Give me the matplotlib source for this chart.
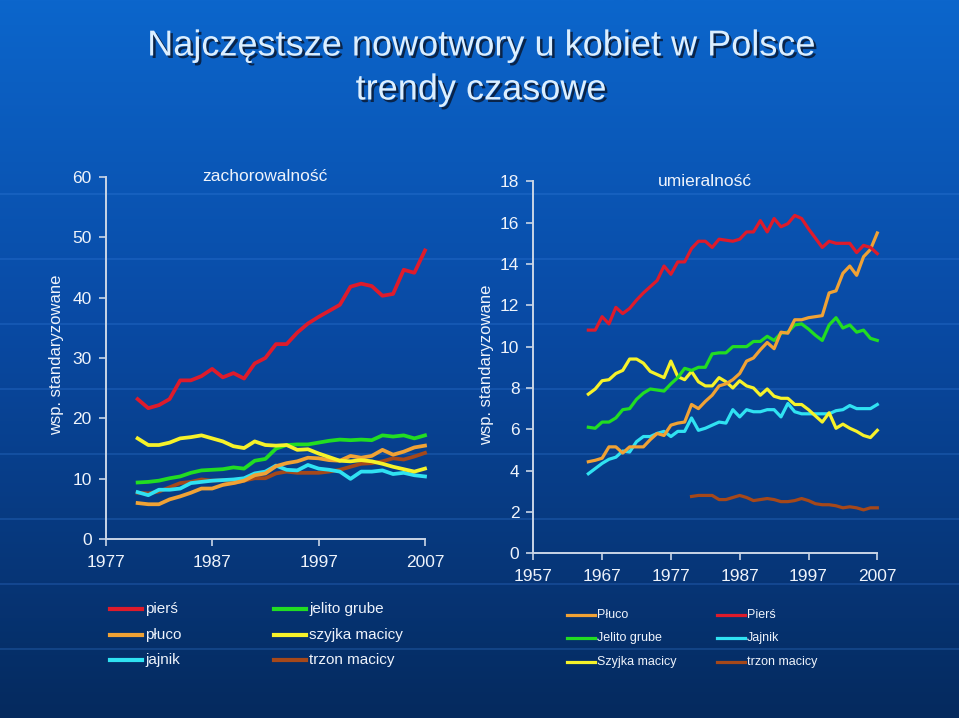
import numpy as np
import matplotlib
matplotlib.use("Agg")
import matplotlib.pyplot as plt
from matplotlib.lines import Line2D
import matplotlib.patheffects as pe

W, H = 959, 718

# ---------------- data ----------------
inc_years = list(range(1980, 2008))
inc_piers = [23.2, 21.7, 22.2, 23.2, 26.3, 26.3, 27.0, 28.2, 26.8, 27.5, 26.6, 29.1, 30.0, 32.3,
             32.3, 34.2, 35.7, 36.8, 37.8, 38.8, 41.8, 42.3, 41.9, 40.3, 40.6, 44.6, 44.1, 47.8]
inc_szyjka = [16.7, 15.6, 15.6, 16.0, 16.7, 16.9, 17.2, 16.7, 16.2, 15.4, 15.1, 16.2, 15.6, 15.5,
              15.6, 14.8, 14.9, 14.2, 13.6, 13.0, 12.9, 13.1, 12.9, 12.5, 12.0, 11.6, 11.2, 11.7]
inc_jelito = [9.4, 9.5, 9.7, 10.1, 10.4, 11.0, 11.4, 11.5, 11.6, 11.9, 11.7, 13.0, 13.3, 15.0,
              15.6, 15.7, 15.7, 16.0, 16.3, 16.5, 16.4, 16.5, 16.4, 17.2, 17.0, 17.2, 16.7, 17.2]
inc_pluco = [6.0, 5.8, 5.8, 6.6, 7.1, 7.7, 8.4, 8.4, 9.0, 9.3, 9.7, 10.6, 10.9, 12.1,
             12.6, 12.9, 13.5, 13.4, 13.1, 13.0, 13.8, 13.5, 13.8, 14.8, 14.0, 14.5, 15.2, 15.5]
inc_jajnik = [7.8, 7.3, 8.2, 8.2, 8.4, 9.3, 9.5, 9.7, 9.8, 9.9, 10.1, 10.9, 11.2, 12.2,
              11.5, 11.4, 12.3, 11.7, 11.5, 11.2, 10.0, 11.2, 11.2, 11.4, 10.8, 11.0, 10.6, 10.4]
inc_trzon = [7.7, 7.6, 7.9, 8.6, 9.3, 9.5, 9.9, 9.7, 9.8, 9.3, 9.7, 10.1, 10.1, 10.9,
             11.2, 11.0, 11.0, 11.0, 11.2, 11.5, 12.0, 12.5, 12.6, 12.9, 13.4, 13.2, 13.7, 14.3]

mort_years = list(range(1965, 2008))
mort_piers = [10.8, 10.8, 11.45, 11.1, 11.9, 11.6, 11.85, 12.25, 12.6, 12.9, 13.2, 13.9, 13.5, 14.1,
              14.1, 14.75, 15.1, 15.1, 14.8, 15.2, 15.15, 15.1, 15.2, 15.55, 15.55, 16.1, 15.55, 16.2,
              15.8, 15.95, 16.35, 16.2, 15.7, 15.25, 14.8, 15.1, 15.0, 15.0, 15.0, 14.55, 14.9, 14.8, 14.5]
mort_pluco = [4.43, 4.5, 4.6, 5.15, 5.15, 4.85, 5.15, 5.15, 5.15, 5.5, 5.8, 5.7, 6.2, 6.3,
              6.35, 7.2, 7.0, 7.35, 7.65, 8.1, 8.2, 8.4, 8.7, 9.3, 9.45, 9.85, 10.2, 9.9,
              10.7, 10.65, 11.3, 11.3, 11.4, 11.45, 11.5, 12.6, 12.7, 13.55, 13.9, 13.45, 14.35, 14.7, 15.5]
mort_jelito = [6.1, 6.05, 6.35, 6.35, 6.55, 6.95, 7.0, 7.45, 7.75, 7.95, 7.9, 7.85, 8.2, 8.5,
               8.95, 8.85, 9.0, 9.0, 9.65, 9.7, 9.7, 10.0, 10.0, 10.0, 10.25, 10.25, 10.5, 10.3,
               10.65, 10.7, 11.05, 11.1, 10.85, 10.55, 10.3, 11.05, 11.4, 10.9, 11.05, 10.7, 10.8, 10.4, 10.3]
mort_szyjka = [7.7, 7.95, 8.35, 8.4, 8.7, 8.85, 9.4, 9.4, 9.2, 8.8, 8.65, 8.5, 9.3, 8.55,
               8.4, 8.8, 8.3, 8.1, 8.1, 8.5, 8.3, 8.0, 8.35, 8.1, 8.0, 7.65, 7.95, 7.6,
               7.5, 7.5, 7.2, 7.2, 6.95, 6.65, 6.35, 6.8, 6.05, 6.25, 6.05, 5.9, 5.7, 5.6, 5.95]
mort_jajnik = [3.85, 4.1, 4.35, 4.55, 4.65, 4.95, 4.9, 5.4, 5.65, 5.65, 5.8, 5.9, 5.65, 5.9,
               5.9, 6.55, 5.95, 6.05, 6.2, 6.35, 6.3, 6.95, 6.6, 6.95, 6.85, 6.85, 6.95, 6.95,
               6.6, 7.25, 6.85, 6.75, 6.75, 6.75, 6.75, 6.75, 6.9, 6.95, 7.15, 7.0, 7.0, 7.0, 7.2]
mort_trzon_years = list(range(1980, 2008))
mort_trzon = [2.75, 2.8, 2.8, 2.8, 2.6, 2.6, 2.7, 2.8, 2.7, 2.55, 2.6, 2.65, 2.6, 2.5,
              2.5, 2.55, 2.65, 2.55, 2.4, 2.35, 2.35, 2.3, 2.2, 2.25, 2.2, 2.1, 2.2, 2.2]

C_RED, C_ORANGE, C_GREEN = "#de1b2b", "#f0a235", "#22dd22"
C_YELLOW, C_CYAN, C_BROWN = "#f6f22a", "#30e2f2", "#a5481a"

left_labels = ["pierś", "płuco", "jajnik", "jelito grube", "szyjka macicy", "trzon macicy"]
left_colors = [C_RED, C_ORANGE, C_CYAN, C_GREEN, C_YELLOW, C_BROWN]
right_labels = ["Płuco", "Jelito grube", "Szyjka macicy", "Pierś", "Jajnik", "trzon macicy"]
right_colors = [C_ORANGE, C_GREEN, C_YELLOW, C_RED, C_CYAN, C_BROWN]

title1 = "Najczęstsze nowotwory u kobiet w Polsce"
title2 = "trendy czasowe"

FONT = ["Liberation Sans", "DejaVu Sans"]
plt.rcParams["font.family"] = FONT
TXT = "#eef3fb"
AXC = "#c9d5e6"

fig = plt.figure(figsize=(W / 100, H / 100), dpi=100)


def fx(x):
    return x / W


def fy(y):
    return 1 - y / H


# ---------------- background ----------------
bg = fig.add_axes([0, 0, 1, 1], zorder=-10)
grad = np.linspace(0, 1, 256)
top = np.array([0x0c, 0x66, 0xcc]) / 255
mid = np.array([0x09, 0x4a, 0xa4]) / 255
bot = np.array([0x05, 0x2a, 0x5e]) / 255
img = np.zeros((256, 1, 3))
for i, t in enumerate(grad):
    if t < 0.45:
        u = t / 0.45
        img[i, 0] = top * (1 - u) + mid * u
    else:
        u = (t - 0.45) / 0.55
        img[i, 0] = mid * (1 - u) + bot * u
bg.imshow(img, aspect="auto", extent=[0, W, H, 0])
bg.set_xlim(0, W)
bg.set_ylim(H, 0)
for yy in range(194, 700, 65):
    bg.axhline(yy, color="#3f86e6", lw=1.1, alpha=0.3)
bg.axis("off")

# ---------------- title ----------------
for txt, yy in [(title1, 46), (title2, 90)]:
    fig.text(fx(481), fy(yy), txt, ha="center", va="center", fontsize=26, color="#dcefff",
             path_effects=[pe.withSimplePatchShadow(offset=(1.8, -1.8), shadow_rgbFace="#0a1e3c", alpha=0.9)])


def style_axes(ax):
    ax.set_facecolor("none")
    for s in ["top", "right"]:
        ax.spines[s].set_visible(False)
    for s in ["left", "bottom"]:
        ax.spines[s].set_color(AXC)
        ax.spines[s].set_linewidth(1.4)
    ax.tick_params(colors=AXC, labelcolor=TXT, labelsize=12.5, length=5, width=1.2, direction="out")
    ax.tick_params(axis="y", pad=5)
    ax.tick_params(axis="x", pad=6)


# ---------------- left: incidence ----------------
axL = fig.add_axes([fx(105.7), fy(539.3), fx(425) - fx(105.7), fy(176.7) - fy(539.3)])
style_axes(axL)
axL.set_xlim(1977, 2007)
axL.set_ylim(0, 60)
axL.set_xticks([1977, 1987, 1997, 2007])
axL.set_yticks(range(0, 61, 10))
for vals, c in [(inc_trzon, C_BROWN), (inc_jajnik, C_CYAN), (inc_pluco, C_ORANGE),
                (inc_jelito, C_GREEN), (inc_szyjka, C_YELLOW), (inc_piers, C_RED)]:
    axL.plot(inc_years, vals, color=c, lw=2.7, clip_on=False)
axL.text(0.5, 1.0, "zachorowalność", transform=axL.transAxes, ha="center", va="center",
         fontsize=12.5, color=TXT)
fig.text(fx(57), fy(355), "wsp. standaryzowane", rotation=90, ha="center", va="center",
         fontsize=12, color=TXT)

# ---------------- right: mortality ----------------
axR = fig.add_axes([fx(533.3), fy(553.3), fx(877.3) - fx(533.3), fy(181.3) - fy(553.3)])
style_axes(axR)
axR.set_xlim(1957, 2007)
axR.set_ylim(0, 18)
axR.set_xticks(range(1957, 2008, 10))
axR.set_yticks(range(0, 19, 2))
axR.plot(mort_trzon_years, mort_trzon, color=C_BROWN, lw=2.3, clip_on=False)
for vals, c in [(mort_jajnik, C_CYAN), (mort_szyjka, C_YELLOW), (mort_jelito, C_GREEN),
                (mort_pluco, C_ORANGE), (mort_piers, C_RED)]:
    axR.plot(mort_years, vals, color=c, lw=2.3, clip_on=False)
axR.text(0.5, 1.0, "umieralność", transform=axR.transAxes, ha="center", va="center",
         fontsize=12.5, color=TXT)
fig.text(fx(487), fy(365), "wsp. standaryzowane", rotation=90, ha="center", va="center",
         fontsize=12, color=TXT)


# ---------------- legends ----------------
def legend_block(labels, colors, x_cols, ys, hlen, fs, lw, gap):
    for i, (lab, col) in enumerate(zip(labels, colors)):
        x0 = x_cols[i // 3]
        y = ys[i % 3]
        fig.add_artist(Line2D([fx(x0), fx(x0 + hlen)], [fy(y), fy(y)], color=col, lw=lw,
                              transform=fig.transFigure))
        fig.text(fx(x0 + hlen + gap), fy(y), lab, ha="left", va="center", fontsize=fs, color=TXT)


legend_block(left_labels, left_colors, [110, 274], [609, 635, 660], 32, 11, 3.0, 3)
legend_block(right_labels, right_colors, [567, 717], [615, 638, 662], 28, 9, 2.3, 2)

fig.savefig("out.png", dpi=100)
